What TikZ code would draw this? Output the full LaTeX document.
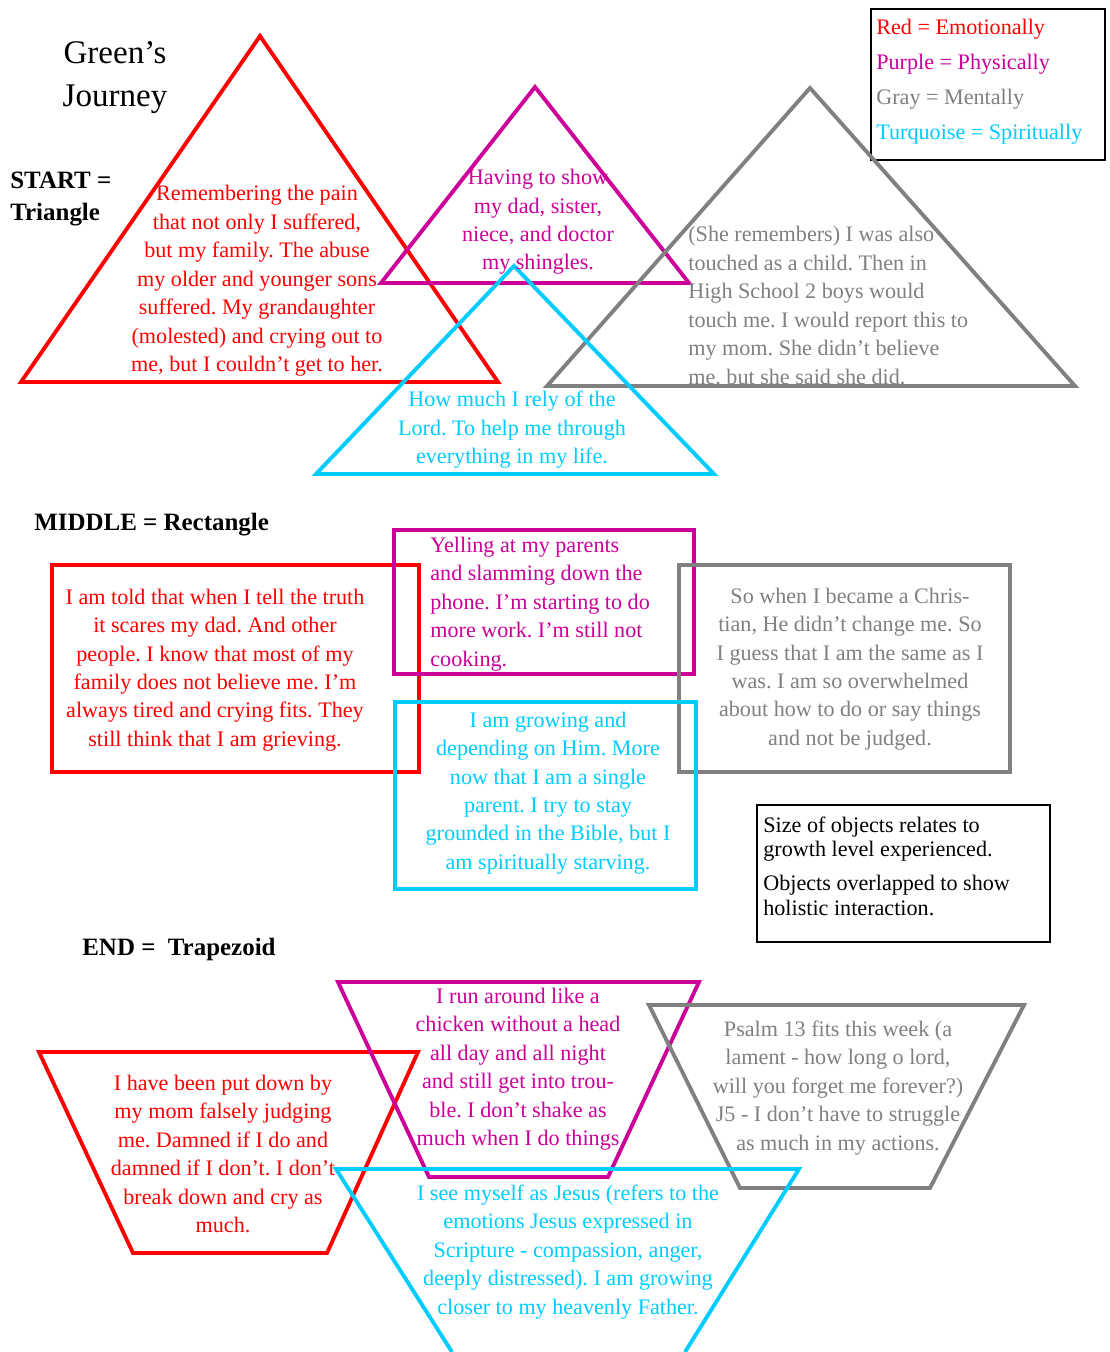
\documentclass[tikz,border=0pt]{standalone}
\usepackage{fontspec}
\setmainfont{Liberation Serif}
\usetikzlibrary{calc}

\definecolor{emored}{RGB}{255,0,0}
\definecolor{physpurple}{RGB}{204,0,153}
\definecolor{mentgray}{RGB}{128,128,128}
\definecolor{spirturq}{RGB}{0,204,255}

\newcommand{\bodysize}{\fontsize{12.6}{16.2}\selectfont}
\newcommand{\headsize}{\fontsize{14.2}{18.2}\selectfont}
\newcommand{\titlesize}{\fontsize{18.8}{24.5}\selectfont}
\frenchspacing

\begin{document}
\begin{tikzpicture}[x=0.02cm, y=-0.02cm,
  outline/.style={line width=2.2pt},
  body/.style={font=\bodysize, inner sep=0pt, align=center},
  bodyleft/.style={font=\bodysize, inner sep=0pt, align=left, anchor=west},
  heading/.style={font=\headsize\bfseries, inner sep=0pt, align=left, anchor=west}]

\useasboundingbox (0,0) rectangle (1109,1352);

% titles
\node[font=\titlesize, inner sep=0pt, align=center] (title) at (115,78) {Green’s\\Journey};
\node[heading] (startlbl) at (10,199) {START =\\Triangle};
\node[heading] (middlelbl) at (34,525) {MIDDLE = Rectangle};
\node[heading] (endlbl) at (82,949) {END =~~Trapezoid};

% legend
\draw[line width=1.1pt] (871,9) rectangle (1105,160);
\node[bodyleft, font=\fontsize{12.6}{19.9}\selectfont] (legend) at (876,82)
  {\textcolor{emored}{Red = Emotionally}\\
   \textcolor{physpurple}{Purple = Physically}\\
   \textcolor{mentgray}{Gray = Mentally}\\
   \textcolor{spirturq}{Turquoise = Spiritually}};

% START = triangles
\draw[outline, emored] (260,36) -- (498,382) -- (21,382) -- cycle;
\draw[outline, physpurple] (535,87) -- (689,283) -- (381,283) -- cycle;
\draw[outline, mentgray] (810,88) -- (1075,386) -- (547,386) -- cycle;
\draw[outline, spirturq] (514,266) -- (714,474) -- (316,474) -- cycle;

\node[body, emored] (emotri) at (257,281)
  {Remembering the pain\\that not only I suffered,\\but my family. The abuse\\my older and younger sons\\suffered. My grandaughter\\(molested) and crying out to\\me, but I couldn't get to her.};
\node[body, physpurple] (phystri) at (538,222)
  {Having to show\\my dad, sister,\\niece, and doctor\\my shingles.};
\node[bodyleft, mentgray] (menttri) at (688,307)
  {(She remembers) I was also\\touched as a child. Then in\\High School 2 boys would\\touch me. I would report this to\\my mom. She didn't believe\\me, but she said she did.};
\node[body, spirturq] (spirtri) at (512,430)
  {How much I rely of the\\Lord. To help me through\\everything in my life.};

% MIDDLE = rectangles
\draw[outline, emored] (52,565) rectangle (419,772);
\draw[outline, physpurple] (394,530) rectangle (694,674);
\draw[outline, mentgray] (679,565) rectangle (1010,772);
\draw[outline, spirturq] (395,702) rectangle (696,889);

\node[body, emored] (emorect) at (215,670)
  {I am told that when I tell the truth\\it scares my dad. And other\\people. I know that most of my\\family does not believe me. I'm\\always tired and crying fits. They\\still think that I am grieving.};
\node[bodyleft, physpurple] (physrect) at (430,604)
  {Yelling at my parents\\and slamming down the\\phone. I'm starting to do\\more work. I'm still not\\cooking.};
\node[body, mentgray] (mentrect) at (850,669)
  {So when I became a Chris-\\tian, He didn't change me. So\\I guess that I am the same as I\\was. I am so overwhelmed\\about how to do or say things\\and not be judged.};
\node[body, spirturq] (spirrect) at (548,793)
  {I am growing and\\depending on Him. More\\now that I am a single\\parent. I try to stay\\grounded in the Bible, but I\\am spiritually starving.};

% note
\draw[line width=1.1pt] (757,805) rectangle (1050,942);
\node[bodyleft, font=\fontsize{12.6}{13.9}\selectfont] (note) at (763,866)
  {Size of objects relates to\\growth level experienced.\\[5.7pt]Objects overlapped to show\\holistic interaction.};

% END = trapezoids
\draw[outline, emored] (39,1052) -- (418,1052) -- (327,1253) -- (133,1253) -- cycle;
\draw[outline, physpurple] (338,982) -- (699,982) -- (608,1177) -- (429,1177) -- cycle;
\draw[outline, mentgray] (649,1005) -- (1024,1005) -- (930,1188) -- (740,1188) -- cycle;
\draw[outline, spirturq] (452,1352) -- (336,1169) -- (799,1169) -- (685,1352);

\node[body, emored] (emotrap) at (223,1154)
  {I have been put down by\\my mom falsely judging\\me. Damned if I do and\\damned if I don't. I don't\\break down and cry as\\much.};
\node[body, physpurple] (phystrap) at (518,1069)
  {I run around like a\\chicken without a head\\all day and all night\\and still get into trou-\\ble. I don't shake as\\much when I do things};
\node[body, mentgray] (menttrap) at (838,1088)
  {Psalm 13 fits this week (a\\lament - how long o lord,\\will you forget me forever?)\\J5 - I don't have to struggle\\as much in my actions.};
\node[body, spirturq] (spirtrap) at (568,1252)
  {I see myself as Jesus (refers to the\\emotions Jesus expressed in\\Scripture - compassion, anger,\\deeply distressed). I am growing\\closer to my heavenly Father.};
\end{tikzpicture}
\end{document}
